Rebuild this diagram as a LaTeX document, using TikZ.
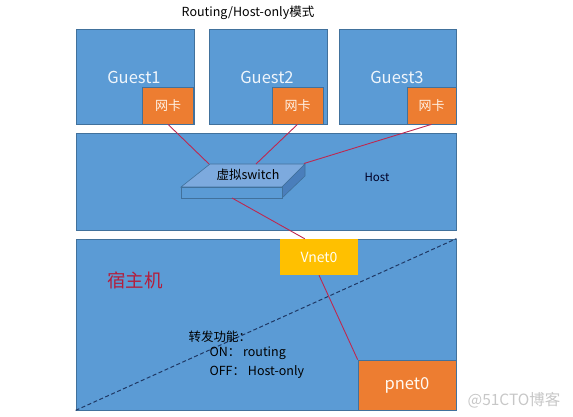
\documentclass[tikz,border=0pt]{standalone}
\usepackage{fontspec}
\setmainfont{Noto Sans CJK SC}
\usepackage{xcolor}
\usepackage{tikz}
\usetikzlibrary{positioning}
\definecolor{boxblue}{RGB}{91,155,213}
\definecolor{edgeblue}{RGB}{65,113,156}
\definecolor{cardorange}{RGB}{237,125,49}
\definecolor{vnetyellow}{RGB}{255,192,0}
\definecolor{linkred}{RGB}{190,40,80}
\definecolor{hostred}{RGB}{180,30,60}
\definecolor{topblue}{RGB}{125,170,222}
\definecolor{sideblue}{RGB}{74,126,187}
\definecolor{dashnavy}{RGB}{31,56,100}

\begin{document}
\begin{tikzpicture}[x=1pt, y=-1pt,
				bluebox/.style={draw=edgeblue, fill=boxblue, line width=0.7pt, inner sep=0pt},
				cardbox/.style={draw=edgeblue, fill=cardorange, line width=0.7pt, inner sep=0pt,
					minimum width=51pt, minimum height=37pt, text=white!90!orange, font=\fontsize{13}{15}\selectfont},
				link/.style={draw=linkred, line width=0.9pt}]
				\useasboundingbox (0,0) rectangle (573,417);
				\node at (248,13) (title) {\fontsize{12.5}{14}\selectfont Routing/Host-only模式};
				% guests
				\node at (135,76.5) (g1) [bluebox, minimum width=118pt, minimum height=95pt] {};
				\node at (268,76.5) (g2) [bluebox, minimum width=118pt, minimum height=95pt] {};
				\node at (397.5,76.5) (g3) [bluebox, minimum width=117pt, minimum height=95pt] {};
				\node at (134,77) (g1text) [text=white!90!boxblue, font=\fontsize{16.5}{18}\selectfont] {Guest1};
				\node at (267,77) (g2text) [text=white!90!boxblue, font=\fontsize{16.5}{18}\selectfont] {Guest2};
				\node at (397,77) (g3text) [text=white!90!boxblue, font=\fontsize{16.5}{18}\selectfont] {Guest3};
				\node at (168,105.5) (card1) [cardbox] {网卡};
				\node at (297.5,105.5) (card2) [cardbox] {网卡};
				\node at (431.5,105.5) (card3) [cardbox, minimum width=49pt] {网卡};
				% host
				\node at (266,181.5) (host) [bluebox, minimum width=380pt, minimum height=97pt] {};
				\node at (377,177) (hosttext) [text=black!85!blue, font=\fontsize{11.5}{13}\selectfont] {Host};
				\filldraw[draw=edgeblue, fill=topblue, line width=0.6pt] (181,187) -- (210,164) -- (305,164) -- (282,187) -- cycle;
				\filldraw[draw=edgeblue, fill=sideblue, line width=0.6pt] (282,187) -- (305,164) -- (305,176) -- (282,198) -- cycle;
				\filldraw[draw=edgeblue, fill=boxblue, line width=0.6pt] (181,187) rectangle (282,198);
				\node at (248,174.5) (switch) [font=\fontsize{12.5}{14}\selectfont] {虚拟switch};
				\coordinate (sw1) at (209,164);
				\coordinate (sw2) at (256,164);
				\coordinate (sw3) at (304,163.5);
				\coordinate (swb) at (232,198);
				% host machine
				\node at (266,324.5) (main) [bluebox, minimum width=380pt, minimum height=171pt] {};
				\draw[dashnavy, dash pattern=on 4pt off 2.5pt, line width=1pt] (main.south west) -- (main.north east);
				\node at (319,257) (vnet) [fill=vnetyellow, inner sep=0pt, minimum width=78pt, minimum height=36pt,
					text=white!95!yellow, font=\fontsize{14}{16}\selectfont] {Vnet0};
				\node at (407,385) (pnet) [draw=edgeblue, fill=cardorange, line width=0.7pt, inner sep=0pt,
					minimum width=98pt, minimum height=50pt, text=white!95!orange, font=\fontsize{16.5}{18}\selectfont] {pnet0};
				\node at (135,280) (hostname) [text=hostred, font=\fontsize{18.5}{20}\selectfont] {宿主机};
				\node at (185,337) (fwd) [anchor=west, font=\fontsize{12.5}{14}\selectfont] {转发功能：};
				\node at (206,353.5) (on) [anchor=west, font=\fontsize{12.5}{14}\selectfont] {ON： routing};
				\node at (206,372) (off) [anchor=west, font=\fontsize{12.5}{14}\selectfont] {OFF： Host-only};
				\node at (514,400) (mark) [text=black!22, font=\fontsize{15.5}{17}\selectfont] {@51CTO博客};
				% links
				\draw[link] (card1.south) -- (sw1);
				\draw[link] (card2.south) -- (sw2);
				\draw[link] (card3.south) -- (sw3);
				\draw[link] (swb) -- (vnet.128);
				\draw[link] (vnet.south) -- (pnet.north west);
			\end{tikzpicture}
\end{document}
